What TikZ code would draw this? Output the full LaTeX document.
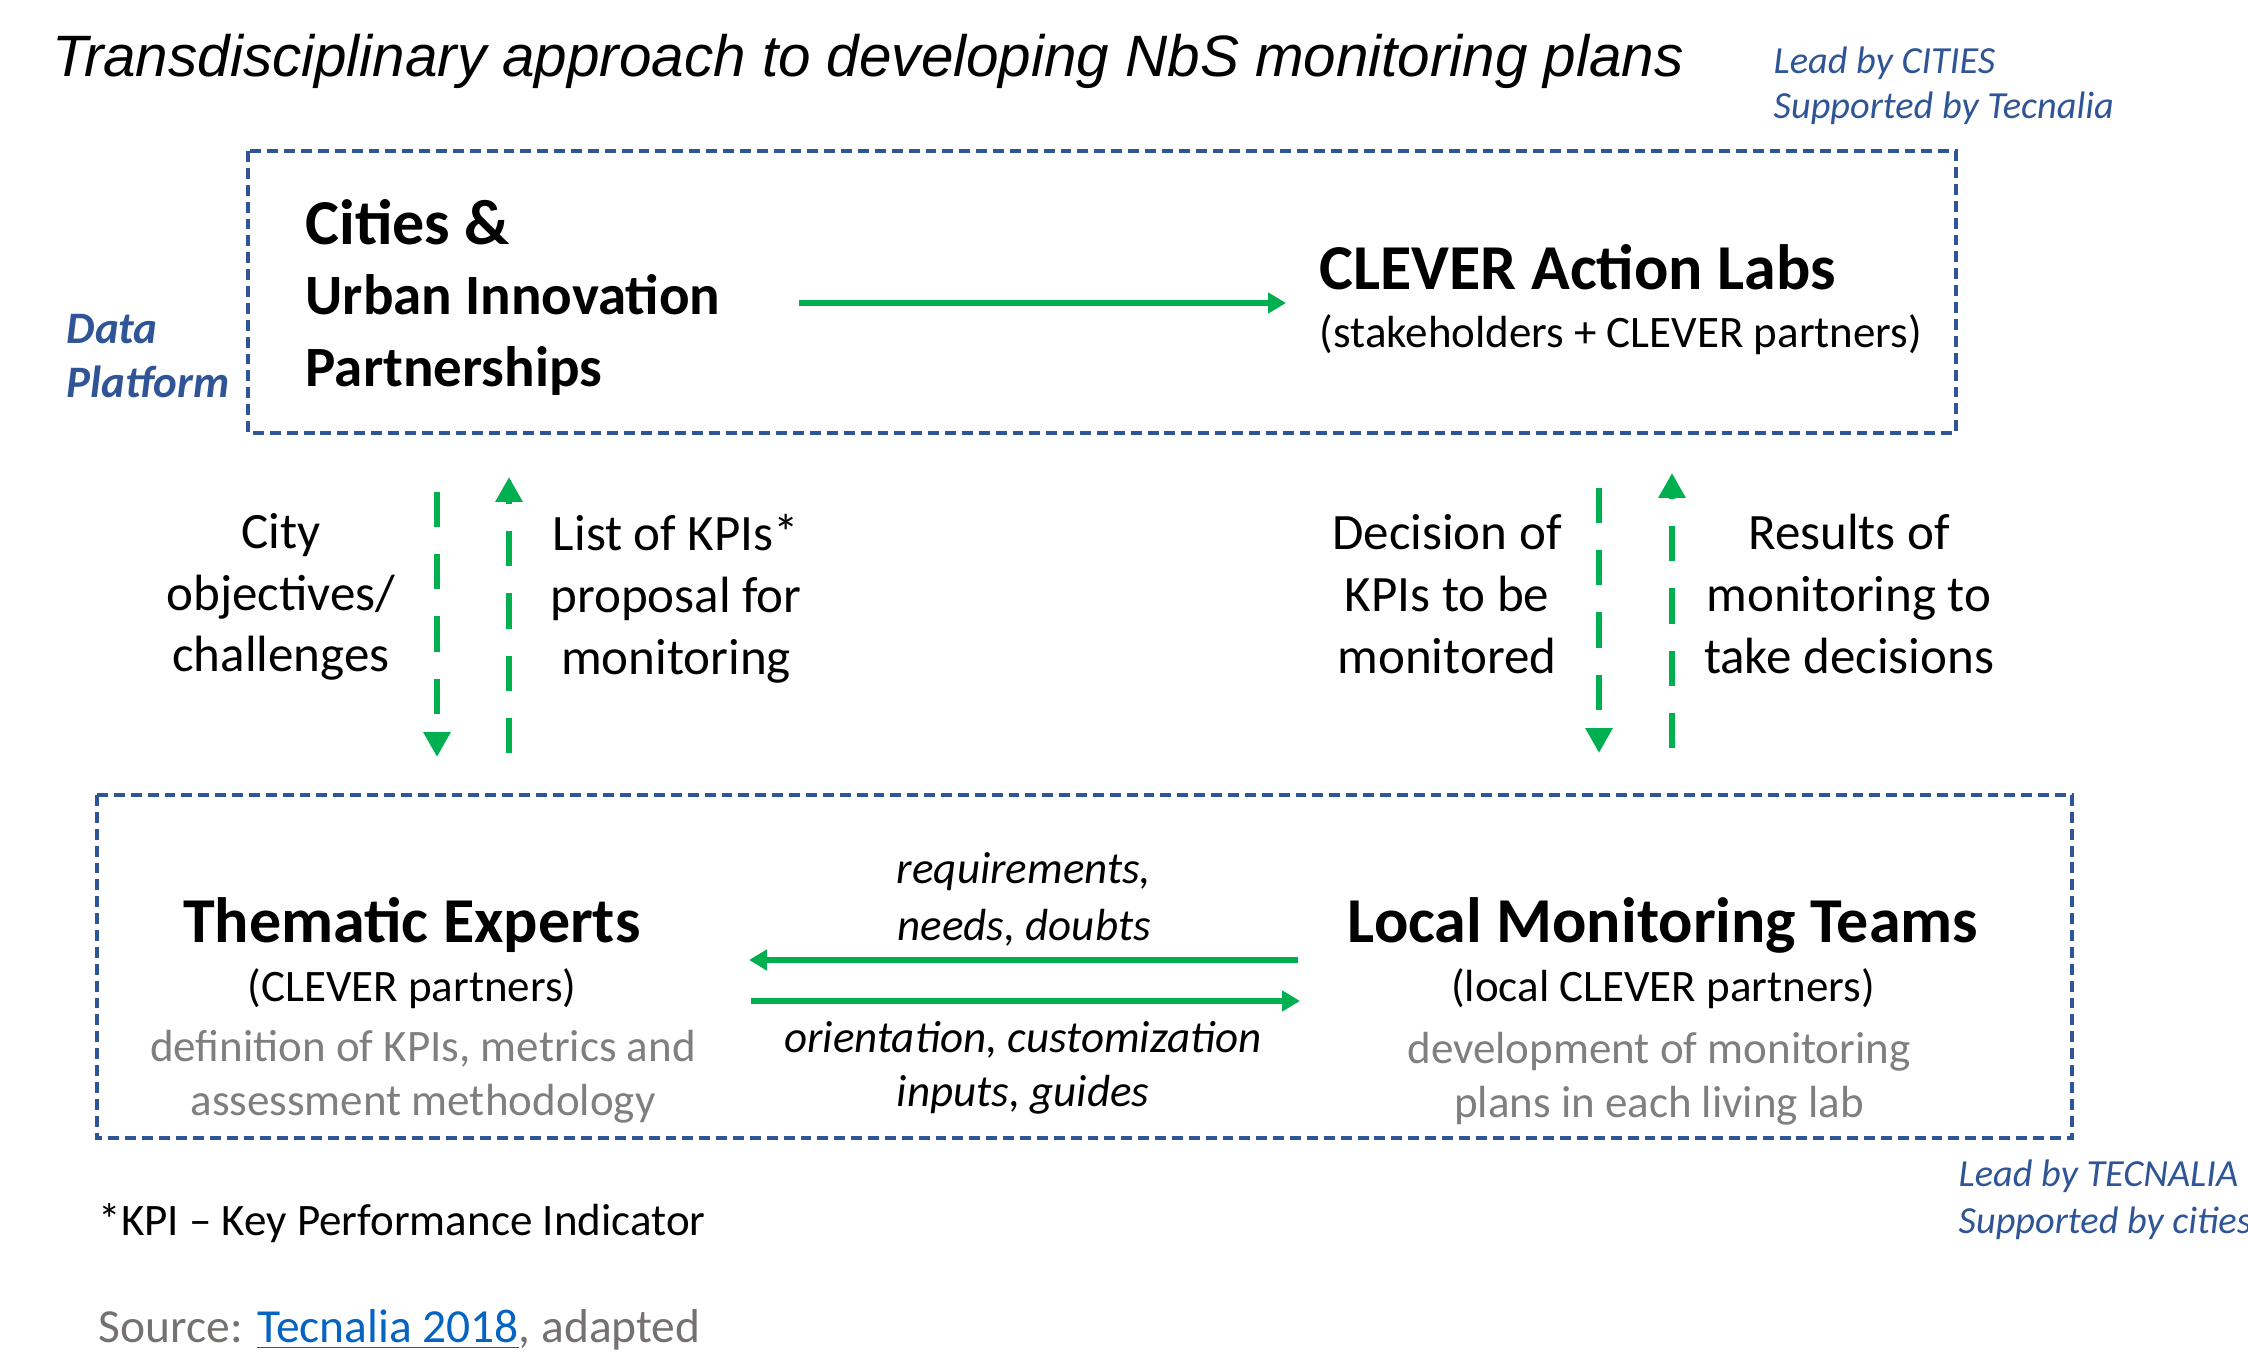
\documentclass[tikz,border=0pt]{standalone}
\usepackage{fontspec}
\setmainfont{Carlito}
\newfontfamily\titlefont{Liberation Sans}
\usetikzlibrary{arrows.meta}
\definecolor{panelblue}{HTML}{2F5597}
\definecolor{flowgreen}{HTML}{00B050}
\definecolor{notegray}{HTML}{7F7F7F}
\definecolor{sourcegray}{HTML}{767171}
\definecolor{linkblue}{HTML}{0563C1}
\newcommand\Fs[2]{\fontsize{#1}{#2}\selectfont}
\newcommand\DashedPanel[4]{%
    \draw[panelblue,line width=1.1pt,dash pattern=on 3.1pt off 1.7pt] (#1,#2) rectangle (#3,#4);
}

\begin{document}
\begin{tikzpicture}[x=0.01cm,y=-0.01cm,
    every node/.style={inner sep=0pt},
    head/.style={font=\Fs{18.2}{22}\bfseries},
    subhead/.style={font=\Fs{12.8}{15}},
    midlabel/.style={font=\Fs{14.5}{17.6},align=center},
    flow/.style={flowgreen,line width=1.7pt,-{Triangle[width=5.7pt,length=5.1pt]}},
    dashflow/.style={flowgreen,line width=1.7pt,dash pattern=on 10pt off 7.7pt,-{Triangle[width=7.4pt,length=7.1pt]}}]
    \useasboundingbox (0,0) rectangle (2248,1358);
    % multi-line nodes sit on the baseline of their last line
    \node[anchor=base west,font=\titlefont\itshape\Fs{16.6}{20}] (title) at (52,77) {Transdisciplinary approach to developing NbS monitoring plans};
    \node[anchor=base west,align=left,text=panelblue,font=\itshape\Fs{10.9}{12.8}] (leadcities) at (1773,119) {Lead by CITIES\\Supported by Tecnalia};
    \node[anchor=base west,align=left,text=panelblue,font=\bfseries\itshape\Fs{12.8}{15.6}] (platform) at (66,398) {Data\\Platform};
    % top panel
    \DashedPanel{248}{151}{1956}{433}
    \node[anchor=base west,head] (cities) at (305,245) {Cities \&};
    \node[anchor=base west,font=\Fs{16.2}{20}\bfseries] (urban) at (305,315) {Urban Innovation};
    \node[anchor=base west,font=\Fs{16.2}{20}\bfseries] (partners) at (305,387) {Partnerships};
    \node[anchor=base west,head] (labs) at (1319,290) {CLEVER Action Labs};
    \node[anchor=base west,subhead] (labsub) at (1319,348) {(stakeholders + CLEVER partners)};
    \coordinate (CitiesOut) at (799,303);
    \coordinate (LabsIn) at (1286,303);
    \draw[flow] (CitiesOut) -- (LabsIn);
    % exchanges between panels
    \node[anchor=base,midlabel] (objectives) at (281,672) {City\\objectives/\\challenges};
    \node[anchor=base,midlabel] (kpilist) at (676,674) {List of KPIs*\\proposal for\\monitoring};
    \node[anchor=base,midlabel] (decision) at (1447,673) {Decision of\\KPIs to be\\monitored};
    \node[anchor=base,midlabel] (results) at (1849,673) {Results of\\monitoring to\\take decisions};
    \coordinate (ObjTop) at (437,492);
    \coordinate (ObjEnd) at (437,757);
    \coordinate (KpiStart) at (509,753);
    \coordinate (KpiTop) at (509,477);
    \coordinate (DecTop) at (1599,488);
    \coordinate (DecEnd) at (1599,753);
    \coordinate (ResStart) at (1672,748);
    \coordinate (ResTop) at (1672,473);
    \draw[dashflow] (ObjTop) -- (ObjEnd);
    \draw[dashflow] (KpiStart) -- (KpiTop);
    \draw[dashflow] (DecTop) -- (DecEnd);
    \draw[dashflow] (ResStart) -- (ResTop);
    % bottom panel
    \DashedPanel{97}{795}{2072}{1138}
    \node[anchor=base,head] (experts) at (412,942) {Thematic Experts};
    \node[anchor=base,subhead] (expsub) at (412,1001) {(CLEVER partners)};
    \node[anchor=base,align=center,text=notegray,font=\Fs{12.8}{15.1}] (expnote) at (423,1115) {definition of KPIs, metrics and\\assessment methodology};
    \node[anchor=base,head] (teams) at (1663,942) {Local Monitoring Teams};
    \node[anchor=base,subhead] (teamsub) at (1663,1001) {(local CLEVER partners)};
    \node[anchor=base,align=center,text=notegray,font=\Fs{12.8}{15.1}] (teamnote) at (1659,1117) {development of monitoring\\plans in each living lab};
    \node[anchor=base,align=center,font=\itshape\Fs{12.8}{16.2}] (needs) at (1024,940) {requirements,\\needs, doubts};
    \node[anchor=base,align=center,font=\itshape\Fs{12.8}{15.1}] (guides) at (1023,1106) {orientation, customization\\inputs, guides};
    \coordinate (TeamsOut) at (1298,960);
    \coordinate (ExpertsIn) at (749,960);
    \coordinate (ExpertsOut) at (751,1001);
    \coordinate (TeamsIn) at (1300,1001);
    \draw[flow] (TeamsOut) -- (ExpertsIn);
    \draw[flow] (ExpertsOut) -- (TeamsIn);
    \node[anchor=base west,align=left,text=panelblue,font=\itshape\Fs{10.9}{13.1}] (leadtec) at (1958,1233) {Lead by TECNALIA\\Supported by cities};
    % notes
    \node[anchor=base west,font=\Fs{12.8}{15}] (kpinote) at (98,1235) {*KPI -- Key Performance Indicator};
    \node[anchor=base west,text=sourcegray,font=\Fs{13.5}{16}] (source) at (98,1342) {Source: \textcolor{linkblue}{\underline{Tecnalia 2018}}, adapted};
\end{tikzpicture}
\end{document}
